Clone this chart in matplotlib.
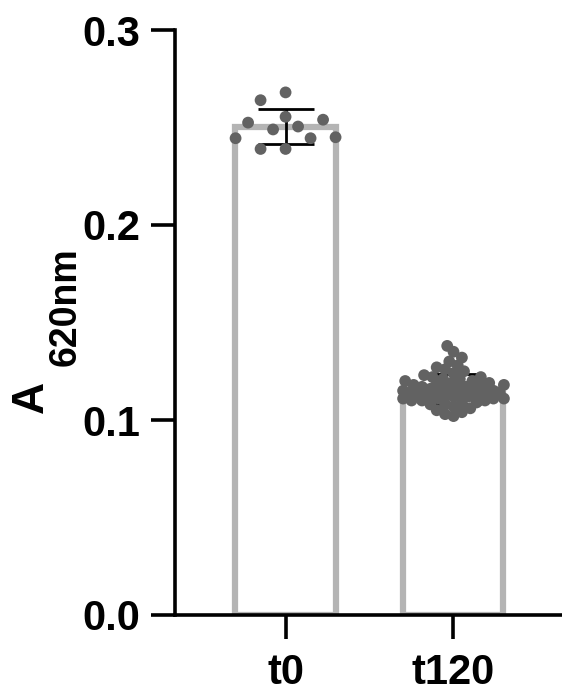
import numpy as np
import matplotlib
matplotlib.use('Agg')
import matplotlib.pyplot as plt

plt.rcParams['font.family'] = ['Liberation Sans', 'DejaVu Sans']
plt.rcParams['font.weight'] = 'bold'

# donnees
groupes = ['t0', 't120']
valeurs_t0 = [0.268, 0.264, 0.2525, 0.2505, 0.254, 0.2555, 0.249, 0.245,
              0.2445, 0.2445, 0.239, 0.239]
valeurs_t120 = [0.138, 0.135, 0.132, 0.130, 0.128, 0.127, 0.126, 0.125,
                0.124, 0.123, 0.122, 0.122, 0.121, 0.121, 0.120, 0.120,
                0.119, 0.119, 0.118, 0.118, 0.118, 0.117, 0.117, 0.117,
                0.116, 0.116, 0.116, 0.115, 0.115, 0.115, 0.115, 0.114,
                0.114, 0.114, 0.114, 0.113, 0.113, 0.113, 0.113, 0.112,
                0.112, 0.112, 0.112, 0.111, 0.111, 0.111, 0.111, 0.110,
                0.110, 0.110, 0.109, 0.109, 0.108, 0.108, 0.107, 0.106,
                0.105, 0.104, 0.103, 0.102]
yticks = [0.0, 0.1, 0.2, 0.3]

W, H = 562, 698
fig = plt.figure(figsize=(W / 100, H / 100), dpi=100)
ax = fig.add_axes([175 / W, 1 - 615 / H, 1 - 175 / W, (615 - 30) / H])
ax.set_xlim(-0.66, 1.65)
ax.set_ylim(0, 0.3)

# echelles en pixels pour le placement des points
px_x = (W - 175) / (1.65 + 0.66)
px_y = (615 - 30) / 0.3


def essaim(vals, d, demi_largeur, pas):
    """Placement simple en essaim (beeswarm), en pixels."""
    vals = np.asarray(vals)
    ys = vals * px_y
    offs = np.zeros(len(vals))
    places = []
    cands = sorted(np.arange(-demi_largeur, demi_largeur + pas / 2, pas), key=abs)
    for i in np.argsort(vals):
        meilleur, dist_max = 0.0, -1
        for c in cands:
            if places:
                pts = np.array(places)
                dmin = np.min(np.hypot(pts[:, 0] - c, pts[:, 1] - ys[i]))
            else:
                dmin = np.inf
            if dmin >= d:
                meilleur = c
                break
            if dmin > dist_max:
                dist_max, meilleur = dmin, c
        offs[i] = meilleur
        places.append((meilleur, ys[i]))
    return offs / px_x


gris_barre = '#b4b4b4'
gris_point = '#626262'
series = [valeurs_t0, valeurs_t120]
reglages = [(22, 12.5), (8.5, 2.1)]
for i, vals in enumerate(series):
    m = np.mean(vals)
    sd = np.std(vals, ddof=1)
    ax.bar(i, m, width=0.6, facecolor='white', edgecolor=gris_barre,
           linewidth=4.5, zorder=1)
    ax.errorbar(i, m, yerr=sd, color='black', capsize=20, capthick=2,
                elinewidth=2, zorder=2)
    d, pas = reglages[i]
    xo = essaim(vals, d, 50, pas)
    ax.scatter(i + xo, vals, s=72, color=gris_point, edgecolor='none', zorder=3)

ax.set_xticks(range(len(groupes)))
ax.set_xticklabels(groupes)
ax.set_yticks(yticks)
ax.set_yticklabels([f'{v:.1f}' for v in yticks])
for s in ['top', 'right']:
    ax.spines[s].set_visible(False)
for s in ['left', 'bottom']:
    ax.spines[s].set_linewidth(2.6)
ax.tick_params(axis='both', width=2.6, length=17, labelsize=30, pad=8)
ax.tick_params(axis='x', pad=10)

# etiquette de l'axe y : A avec indice 620nm
fig.text(31.5 / W, 1 - 397 / H, 'A', rotation=90, fontsize=32,
         fontweight='bold', ha='center', va='center')
fig.text(66 / W, 1 - 307 / H, '620nm', rotation=90, fontsize=27,
         fontweight='bold', ha='center', va='center')

fig.savefig('out.png', dpi=100)
